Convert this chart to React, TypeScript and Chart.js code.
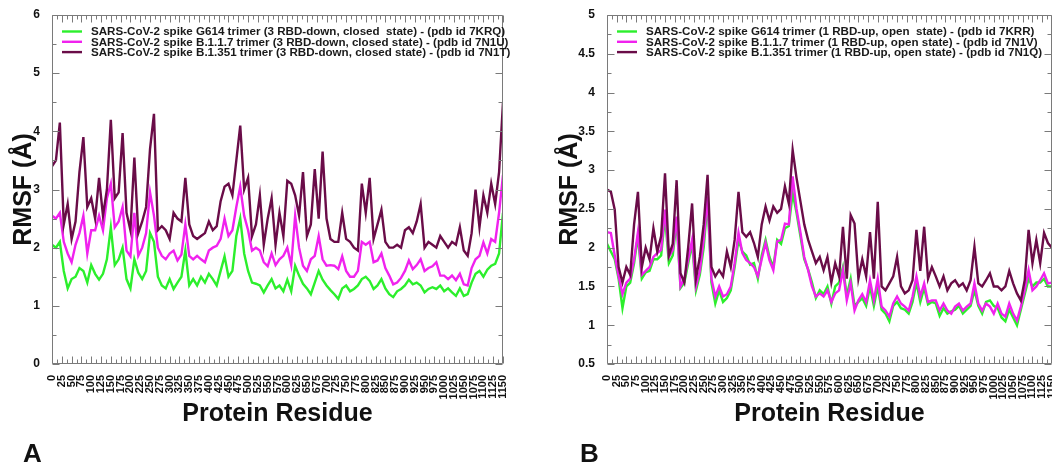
import React, { useEffect, useRef } from "react";
import { Chart, registerables } from "chart.js";

Chart.register(...registerables);

const FONT = '"Liberation Sans", Arial, Helvetica, sans-serif';

// Residue positions (x values), shared by all series
const residues = [
  0, 10, 20, 30, 40, 50, 60, 70, 80, 90,
  100, 110, 120, 130, 140, 150, 160, 170, 180, 190,
  200, 210, 220, 230, 240, 250, 260, 270, 280, 290,
  300, 310, 320, 330, 340, 350, 360, 370, 380, 390,
  400, 410, 420, 430, 440, 450, 460, 470, 480, 490,
  500, 510, 520, 530, 540, 550, 560, 570, 580, 590,
  600, 610, 620, 630, 640, 650, 660, 670, 680, 690,
  700, 710, 720, 730, 740, 750, 760, 770, 780, 790,
  800, 810, 820, 830, 840, 850, 860, 870, 880, 890,
  900, 910, 920, 930, 940, 950, 960, 970, 980, 990,
  1000, 1010, 1020, 1030, 1040, 1050, 1060, 1070, 1080, 1090,
  1100, 1110, 1120, 1130, 1140, 1150,
];

// ---------- Panel A (3 RBD-down, closed state) ----------
const labelsA = [
  "SARS-CoV-2 spike G614 trimer (3 RBD-down, closed  state) - (pdb id 7KRQ)",
  "SARS-CoV-2 spike B.1.1.7 trimer (3 RBD-down, closed state) - (pdb id 7N1U)",
  "SARS-CoV-2 spike B.1.351 trimer (3 RBD-down, closed state) - (pdb id 7N1T)",
];

const g614A = [
  2.05, 2.0, 2.1, 1.6, 1.3, 1.46, 1.5, 1.65, 1.6, 1.4,
  1.7, 1.55, 1.45, 1.55, 1.8, 2.35, 1.7, 1.8, 2.0, 1.46,
  1.3, 1.8, 1.57, 1.46, 1.6, 2.25, 2.1, 1.5, 1.35, 1.3,
  1.46, 1.29, 1.4, 1.5, 1.95, 1.35, 1.46, 1.35, 1.5, 1.4,
  1.55, 1.46, 1.35, 1.6, 1.85, 1.5, 1.6, 2.2, 2.5, 1.9,
  1.6, 1.4, 1.38, 1.35, 1.23, 1.35, 1.46, 1.3, 1.35, 1.25,
  1.45, 1.25, 1.69, 1.52, 1.38, 1.3, 1.2, 1.4, 1.6, 1.45,
  1.35, 1.27, 1.2, 1.12, 1.3, 1.35, 1.25, 1.29, 1.35, 1.46,
  1.5, 1.43, 1.29, 1.35, 1.46, 1.3, 1.2, 1.15, 1.25, 1.29,
  1.35, 1.45, 1.37, 1.4, 1.35, 1.23, 1.29, 1.32, 1.29, 1.35,
  1.25, 1.3, 1.23, 1.17, 1.3, 1.17, 1.2, 1.4, 1.55, 1.6,
  1.5, 1.62, 1.69, 1.72, 1.9, 2.6,
];

const b117A = [
  2.55, 2.5, 2.6, 2.1, 1.9, 1.75, 2.05, 2.25, 2.55, 1.9,
  2.3, 2.3, 2.55, 2.3, 2.85, 3.1, 2.35, 2.45, 2.7, 1.95,
  1.85, 2.6, 1.86, 2.0, 2.25, 2.95, 2.55, 2.0, 1.86, 1.8,
  1.9, 1.95, 1.78, 1.88, 2.4, 1.86, 1.8, 1.86, 1.8, 1.75,
  1.95, 2.0, 2.03, 2.15, 2.5, 2.2, 2.3, 2.7, 3.05, 2.55,
  2.3, 1.95, 2.0, 1.95, 1.75, 1.68, 1.9, 1.7, 1.8, 1.86,
  2.0, 1.7, 2.55, 2.0, 1.69, 1.6, 1.8, 1.86, 2.2, 1.8,
  1.69, 1.7, 1.69, 1.63, 1.85, 1.6, 1.5, 1.5, 1.6, 2.1,
  2.05, 2.1, 1.75, 1.78, 1.9, 1.65, 1.52, 1.37, 1.4, 1.48,
  1.6, 1.78, 1.63, 1.7, 1.8, 1.6, 1.65, 1.68, 1.75, 1.52,
  1.52, 1.46, 1.52, 1.44, 1.55, 1.37, 1.35, 1.65, 1.8, 1.86,
  2.09, 1.9, 2.15, 2.1, 2.6, 3.25,
];

const b1351A = [
  3.4, 3.5, 4.15, 2.4, 2.75, 2.15, 2.45, 3.3, 3.9, 2.7,
  2.85, 2.5, 3.2, 2.55, 3.0, 4.2, 2.85, 2.95, 3.97, 2.6,
  2.3, 3.55, 2.25, 2.45, 2.7, 3.7, 4.3, 2.3, 2.37, 2.3,
  2.15, 2.6, 2.5, 2.45, 3.2, 2.4, 2.2, 2.15, 2.2, 2.25,
  2.45, 2.3, 2.37, 2.8, 3.05, 3.1, 2.9, 3.5, 4.1, 3.0,
  3.2, 2.2, 2.4, 2.9, 2.05, 2.5, 2.85, 2.05, 2.6, 2.2,
  3.15, 3.1, 2.9, 2.55, 3.3, 2.2, 2.4, 3.35, 2.5, 3.65,
  2.5, 2.15, 2.1, 2.1, 2.6, 2.15, 2.1, 2.0, 1.95, 3.1,
  2.6, 3.2, 2.15, 2.4, 2.65, 2.1, 2.0, 2.0, 2.05, 2.0,
  2.3, 2.35, 2.25, 2.45, 2.75, 2.0, 2.1, 2.05, 2.0, 2.2,
  2.1, 2.0, 2.1, 2.05, 2.35, 1.95, 1.86, 2.25, 3.0, 2.35,
  2.9, 2.6, 3.1, 2.75, 3.3, 4.5,
];

// ---------- Panel B (1 RBD-up, open state) ----------
const labelsB = [
  "SARS-CoV-2 spike G614 trimer (1 RBD-up, open  state) - (pdb id 7KRR)",
  "SARS-CoV-2 spike B.1.1.7 trimer (1 RBD-up, open state) - (pdb id 7N1V)",
  "SARS-CoV-2 spike B.1.351 trimer (1 RBD-up, open state) - (pdb id 7N1Q)",
];

const g614B = [
  2.05, 1.95, 1.85, 1.6, 1.22, 1.5, 1.55, 1.8, 2.15, 1.6,
  1.68, 1.7, 1.85, 1.85, 1.9, 2.4, 1.8, 1.9, 2.35, 1.48,
  1.55, 1.8, 2.05, 1.45, 1.65, 2.0, 2.6, 1.55, 1.28, 1.45,
  1.3, 1.35, 1.45, 1.75, 2.1, 1.95, 1.9, 1.78, 1.8, 1.6,
  1.9, 2.1, 1.88, 1.75, 2.1, 2.05, 2.25, 2.28, 2.7, 2.45,
  2.15, 1.85, 1.72, 1.55, 1.35, 1.45, 1.4, 1.5, 1.28, 1.5,
  1.55, 1.75, 1.38, 1.6, 1.25, 1.3, 1.35, 1.25, 1.5, 1.25,
  1.5, 1.2, 1.15, 1.05, 1.25, 1.3, 1.22, 1.2, 1.15, 1.3,
  1.55, 1.3, 1.48, 1.27, 1.3, 1.28, 1.12, 1.22, 1.15, 1.18,
  1.2, 1.25, 1.15, 1.2, 1.25, 1.45, 1.25, 1.15, 1.3, 1.32,
  1.25, 1.22, 1.1, 1.05, 1.2, 1.1, 1.0, 1.2, 1.4, 1.6,
  1.5, 1.55, 1.55, 1.6, 1.5, 1.5,
];

const b117B = [
  2.2, 2.19, 1.9, 1.63, 1.4, 1.55, 1.6, 1.85, 2.2, 1.65,
  1.7, 1.75, 1.88, 1.93, 1.97, 2.49, 1.88, 1.97, 2.4, 1.5,
  1.6, 1.85, 2.1, 1.5, 1.7, 2.1, 2.66, 1.6, 1.37, 1.5,
  1.37, 1.4, 1.5, 1.8, 2.19, 1.93, 1.84, 1.8, 1.75, 1.63,
  1.85, 2.06, 1.84, 1.71, 2.08, 2.1, 2.31, 2.3, 2.92, 2.5,
  2.2, 1.88, 1.71, 1.5, 1.37, 1.41, 1.37, 1.45, 1.3, 1.41,
  1.45, 1.71, 1.32, 1.54, 1.19, 1.32, 1.4, 1.3, 1.58, 1.32,
  1.6, 1.24, 1.19, 1.11, 1.28, 1.37, 1.28, 1.24, 1.19, 1.37,
  1.63, 1.37, 1.54, 1.3, 1.32, 1.32, 1.19, 1.28, 1.19, 1.15,
  1.24, 1.28, 1.19, 1.24, 1.28, 1.54, 1.28, 1.19, 1.28, 1.24,
  1.15, 1.28, 1.15, 1.11, 1.28, 1.15, 1.06, 1.24, 1.45, 1.71,
  1.45, 1.5, 1.58, 1.67, 1.54, 1.55,
];

const b1351B = [
  2.75, 2.72, 2.49, 1.75, 1.55, 1.75, 1.65, 2.3, 2.72, 1.75,
  2.0, 1.85, 2.25, 1.95, 2.15, 2.96, 1.9, 2.05, 2.87, 1.67,
  1.55, 2.01, 2.57, 1.6, 1.88, 2.3, 2.94, 1.75, 1.63, 1.71,
  1.63, 1.95, 1.75, 2.1, 2.72, 2.2, 2.14, 2.2, 2.06, 1.88,
  2.3, 2.53, 2.35, 2.53, 2.45, 2.5, 2.79, 2.57, 3.26, 2.9,
  2.6, 2.3, 2.1, 1.95, 1.8, 1.88, 1.71, 1.88, 1.55, 1.8,
  1.63, 2.27, 1.6, 2.42, 2.31, 1.6, 1.85, 1.63, 2.2, 1.6,
  2.59, 1.5, 1.45, 1.54, 1.63, 1.88, 1.5, 1.41, 1.45, 1.58,
  2.23, 1.7, 2.27, 1.6, 1.75, 1.63, 1.5, 1.63, 1.45, 1.54,
  1.58, 1.5, 1.54, 1.45, 1.58, 2.01, 1.54, 1.5, 1.58, 1.67,
  1.5, 1.5, 1.45, 1.5, 1.7, 1.54, 1.41, 1.32, 1.58, 2.23,
  1.8, 2.1, 1.8, 2.19, 2.06, 2.0,
];

const seriesColors = ["#2cef2c", "#f022ee", "#6a0c48"];

// Axis ranges / tick steps
const xRange = { min: 0, max: 1150, major: 25, minor: 12.5 };
const yRangeA = { min: 0, max: 6, major: 1, minor: 0.5 };
const yRangeB = { min: 0.5, max: 5, major: 0.5, minor: 0.25 };

// Draws the xmgrace style frame with inward ticks on all four sides
const framePlugin = {
  id: "xmFrame",
  afterDatasetsDraw(chart: any, _args: any, opts: any) {
    const { ctx, chartArea } = chart;
    const { left, right, top, bottom } = chartArea;
    const xs = chart.scales.x;
    const ys = chart.scales.y;
    ctx.save();
    ctx.strokeStyle = opts.color || "#777";
    ctx.lineWidth = 1;
    ctx.beginPath();
    const L = Math.round(left) + 0.5;
    const R = Math.round(right) - 0.5;
    const T = Math.round(top) + 0.5;
    const B = Math.round(bottom) - 0.5;
    ctx.rect(L, T, R - L, B - T);
    const isMajor = (v: number, step: number, base: number) => {
      const q = (v - base) / step;
      return Math.abs(q - Math.round(q)) < 1e-6;
    };
    for (let v = opts.x.min; v <= opts.x.max + 1e-9; v += opts.x.minor) {
      const px = Math.round(xs.getPixelForValue(v)) + 0.5;
      const len = isMajor(v, opts.x.major, opts.x.min) ? 7 : 4;
      ctx.moveTo(px, B);
      ctx.lineTo(px, B - len);
      ctx.moveTo(px, T);
      ctx.lineTo(px, T + len);
    }
    for (let v = opts.y.min; v <= opts.y.max + 1e-9; v += opts.y.minor) {
      const py = Math.round(ys.getPixelForValue(v)) + 0.5;
      const len = isMajor(v, opts.y.major, opts.y.min) ? 7 : 4;
      ctx.moveTo(L, py);
      ctx.lineTo(L + len, py);
      ctx.moveTo(R, py);
      ctx.lineTo(R - len, py);
    }
    ctx.stroke();
    ctx.restore();
  },
};

// Legend drawn inside the plot, top-left, like the reference
const insideLegendPlugin = {
  id: "xmLegend",
  afterDraw(chart: any) {
    const { ctx, chartArea } = chart;
    ctx.save();
    ctx.font = `bold 11.6px ${FONT}`;
    ctx.textBaseline = "middle";
    ctx.textAlign = "left";
    chart.data.datasets.forEach((ds: any, i: number) => {
      const y = chartArea.top + 16.5 + i * 10.3;
      ctx.strokeStyle = ds.borderColor;
      ctx.lineWidth = 2.4;
      ctx.beginPath();
      ctx.moveTo(chartArea.left + 10, y);
      ctx.lineTo(chartArea.left + 30, y);
      ctx.stroke();
      ctx.fillStyle = "#1a1a1a";
      ctx.fillText(ds.label, chartArea.left + 39, y + 0.5);
    });
    ctx.restore();
  },
};

type PanelSpec = {
  left: number;
  width: number;
  plotLeft: number;
  plotRight: number;
  yTitlePad: number;
  labels: string[];
  values: number[][];
  yRange: { min: number; max: number; major: number; minor: number };
};

const CANVAS_H = 468;
const PLOT_TOP = 15;
const PLOT_BOTTOM = 364;

const panelA: PanelSpec = {
  left: 0,
  width: 526,
  plotLeft: 52,
  plotRight: 503,
  yTitlePad: 9,
  labels: labelsA,
  values: [g614A, b117A, b1351A],
  yRange: yRangeA,
};

const panelB: PanelSpec = {
  left: 526,
  width: 542,
  plotLeft: 81,
  plotRight: 530,
  yTitlePad: 29,
  labels: labelsB,
  values: [g614B, b117B, b1351B],
  yRange: yRangeB,
};

function buildConfig(p: PanelSpec): any {
  return {
    type: "line",
    data: {
      datasets: p.values.map((vals, i) => ({
        label: p.labels[i],
        data: residues.map((r, k) => ({ x: r, y: vals[k] })),
        borderColor: seriesColors[i],
        backgroundColor: seriesColors[i],
        borderWidth: 2.4,
        pointRadius: 0,
        tension: 0,
        fill: false,
        order: 3 - i,
      })),
    },
    options: {
      animation: false,
      responsive: false,
      maintainAspectRatio: false,
      events: [],
      layout: {
        padding: { left: 0, top: PLOT_TOP, right: p.width - p.plotRight, bottom: 0 },
      },
      plugins: {
        legend: { display: false },
        tooltip: { enabled: false },
        xmFrame: { color: "#7a7a7a", x: xRange, y: p.yRange },
      },
      scales: {
        x: {
          type: "linear",
          min: xRange.min,
          max: xRange.max,
          grid: { display: false },
          border: { display: false },
          ticks: {
            stepSize: xRange.major,
            autoSkip: false,
            minRotation: 90,
            maxRotation: 90,
            padding: 3,
            color: "#111",
            font: { family: FONT, size: 11, weight: "bold" },
            callback: (v: any) => String(v),
          },
          title: {
            display: true,
            text: "Protein Residue",
            color: "#111",
            font: { family: FONT, size: 25, weight: "bold", lineHeight: 1.2 },
            padding: { top: 0, bottom: 39 },
          },
          afterFit: (s: any) => {
            s.height = CANVAS_H - PLOT_BOTTOM;
          },
        },
        y: {
          type: "linear",
          min: p.yRange.min,
          max: p.yRange.max,
          grid: { display: false },
          border: { display: false },
          ticks: {
            stepSize: p.yRange.major,
            padding: 4,
            color: "#111",
            font: { family: FONT, size: 12, weight: "bold" },
            callback: (v: any) => String(v),
          },
          title: {
            display: true,
            text: "RMSF (Å)",
            color: "#111",
            font: { family: FONT, size: 25, weight: "bold", lineHeight: 1.2 },
            padding: { top: p.yTitlePad, bottom: 0 },
          },
          afterFit: (s: any) => {
            s.width = p.plotLeft;
          },
        },
      },
    },
    plugins: [framePlugin, insideLegendPlugin],
  };
}

function Panel({ spec }: { spec: PanelSpec }) {
  const ref = useRef<HTMLCanvasElement | null>(null);
  useEffect(() => {
    if (!ref.current) return;
    const chart = new Chart(ref.current, buildConfig(spec));
    return () => chart.destroy();
  }, [spec]);
  return (
    <canvas
      ref={ref}
      width={spec.width}
      height={CANVAS_H}
      style={{ position: "absolute", left: spec.left, top: 0, width: spec.width, height: CANVAS_H }}
    />
  );
}

const panelLetterStyle: React.CSSProperties = {
  position: "absolute",
  top: 440,
  fontFamily: FONT,
  fontWeight: "bold",
  fontSize: 26,
  lineHeight: "26px",
  color: "#111",
};

export default function App() {
  return (
    <div
      style={{
        position: "absolute",
        left: 0,
        top: 0,
        width: 1052,
        height: 468,
        overflow: "hidden",
        background: "#fff",
      }}
    >
      <Panel spec={panelA} />
      <Panel spec={panelB} />
      <div style={{ ...panelLetterStyle, left: 23 }}>A</div>
      <div style={{ ...panelLetterStyle, left: 580 }}>B</div>
    </div>
  );
}
